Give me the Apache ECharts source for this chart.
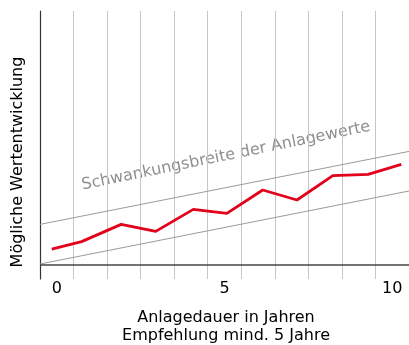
<!DOCTYPE html>
<html>
<head>
<meta charset="utf-8">
<script src="https://cdn.jsdelivr.net/npm/echarts@6/dist/echarts.min.js"></script>
<style>
  html, body { margin: 0; padding: 0; background: #fff; }
  #chart { width: 409px; height: 345px; }
</style>
</head>
<body>
<div id="chart"></div>
<script>
// Investment horizon categories (years), labelled every fifth year
const years = ['0', '1', '2', '3', '4', '5', '6', '7', '8', '9', '10'];

// Sample value path over the investment period: [year, value]
const pathYears = [-0.15, 0.74, 1.92, 2.95, 4.07, 5.07, 6.14, 7.16, 8.23, 9.28, 10.27];
const pathValues = [7.9, 11.7, 20.3, 16.8, 27.8, 25.8, 37.5, 32.5, 44.7, 45.3, 50.3];

// Fluctuation range: upper and lower boundary lines [year, value]
const upperBand = [[-0.5, 20.3], [10.5, 56.8]];
const lowerBand = [[-0.5, 0.5], [10.5, 37]];

const FONT = 'DejaVu Sans';

const chart = echarts.init(document.getElementById('chart'));

chart.setOption({
  animation: false,
  backgroundColor: '#ffffff',
  grid: { left: 40, right: -2, top: 11, bottom: 66, containLabel: false },
  xAxis: [
    {
      type: 'category',
      data: years,
      boundaryGap: true,
      axisLine: { show: false },
      axisTick: { show: false },
      splitLine: { show: true, interval: 0, lineStyle: { color: '#c6c6c6', width: 1 } },
      axisLabel: {
        interval: 4,
        margin: 2,
        color: '#000',
        fontFamily: FONT,
        fontSize: 16
      }
    },
    {
      type: 'value',
      min: -0.5,
      max: 10.5,
      show: false
    }
  ],
  yAxis: {
    type: 'value',
    min: -7,
    max: 127,
    axisLine: { show: true, onZero: false, lineStyle: { color: '#333', width: 1.2 } },
    axisTick: { show: false },
    axisLabel: { show: false },
    splitLine: { show: false }
  },
  series: [
    {
      type: 'line',
      xAxisIndex: 1,
      data: upperBand,
      symbol: 'none',
      lineStyle: { color: '#9a9a9a', width: 1 },
      silent: true,
      z: 2
    },
    {
      type: 'line',
      xAxisIndex: 1,
      data: lowerBand,
      symbol: 'none',
      lineStyle: { color: '#9a9a9a', width: 1 },
      silent: true,
      z: 2,
      markLine: {
        silent: true,
        symbol: 'none',
        label: { show: false },
        lineStyle: { color: '#444', width: 1.5, type: 'solid' },
        data: [{ yAxis: 0 }]
      }
    },
    {
      type: 'line',
      xAxisIndex: 1,
      data: pathYears.map((x, i) => [x, pathValues[i]]),
      symbol: 'none',
      lineStyle: { color: '#e2001a', width: 2.8 },
      z: 5
    }
  ],
  graphic: [
    {
      type: 'text',
      x: 226,
      y: 156,
      rotation: 0.2018,
      style: {
        text: 'Schwankungsbreite der Anlagewerte',
        fill: '#8f8f8f',
        font: '16px "DejaVu Sans"',
        align: 'center',
        verticalAlign: 'middle'
      }
    },
    {
      type: 'text',
      x: 18,
      y: 162,
      rotation: Math.PI / 2,
      style: {
        text: 'Mögliche Wertentwicklung',
        fill: '#000',
        font: '16px "DejaVu Sans"',
        align: 'center',
        verticalAlign: 'middle'
      }
    },
    {
      type: 'text',
      x: 226,
      y: 309,
      style: {
        text: 'Anlagedauer in Jahren\nEmpfehlung mind. 5 Jahre',
        fill: '#000',
        font: '16px "DejaVu Sans"',
        lineHeight: 18,
        align: 'center',
        verticalAlign: 'top'
      }
    }
  ]
});
</script>
</body>
</html>
